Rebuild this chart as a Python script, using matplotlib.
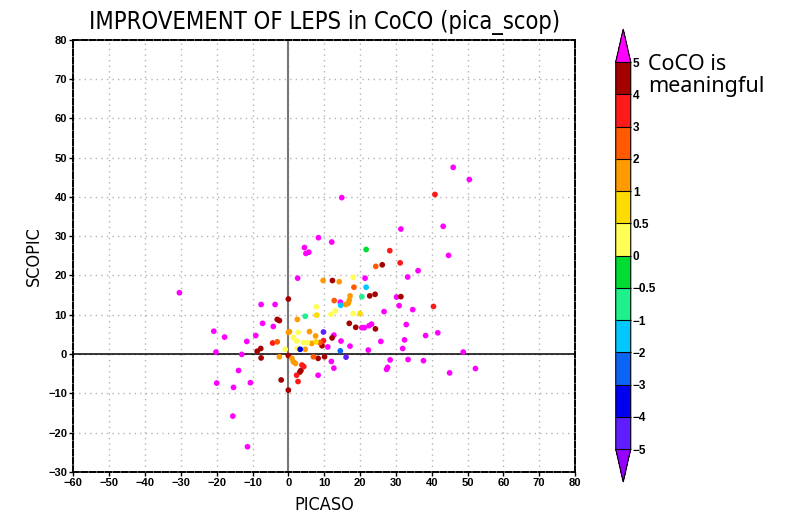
import numpy as np
import matplotlib
matplotlib.use('Agg')
import matplotlib.pyplot as plt
from matplotlib.colors import ListedColormap, BoundaryNorm

# CoCO class boundaries and colours (GrADS style rainbow)
bounds = [-5, -4, -3, -2, -1, -0.5, 0, 0.5, 1, 2, 3, 4, 5]
bound_labels = ['\u22125', '\u22124', '\u22123', '\u22122', '\u22121', '\u22120.5', '0',
                '0.5', '1', '2', '3', '4', '5']
colors = ['#5f1eff', '#0000f0', '#0a64f5', '#00c8ff', '#1ef08c', '#00dc32',
          '#ffff55', '#ffdc00', '#ff9a00', '#ff5a00', '#ff1a1a', '#a50000']
under_color = '#9600ff'
over_color = '#ff00ff'

# points: magenta (> 5)
mag_x = [-30.4, -20.8, -17.8, -20.2, -20.0, -15.3, -13.9, -15.5, -11.4, -13.0, -11.6, -10.6,
         -9.1, -7.6, -7.2, -3.7, -4.2,
         2.6, 21.4, 14.5, 20.5, 21.2, 22.5, 23.2, 25.8, 12.7, 14.7, 11.0, 17.2, 22.3, 12.0,
         12.7, 8.3, 46.0, 50.5, 14.9, 31.4, 43.2, 44.7, 36.2, 33.3, 30.2, 30.9, 34.7, 26.7,
         32.9, 32.4, 41.7, 38.3, 31.9, 33.4, 37.7, 48.8, 28.4, 27.7, 27.4, 45.0, 52.2, 8.4,
         12.1, 4.5, 4.9, 5.7]
mag_y = [15.6, 5.8, 4.3, 0.5, -7.4, -8.5, -4.2, -15.8, -23.6, -0.1, 3.2, -7.3,
         4.7, 12.6, 7.8, 12.6, 7.0,
         19.3, 19.3, 13.2, 6.7, 6.7, 7.2, 7.6, 3.2, 4.8, 3.3, 1.8, 2.0, 1.0, -1.9,
         -3.6, -5.4, 47.5, 44.4, 39.8, 31.8, 32.5, 25.1, 21.2, 19.6, 14.5, 12.3, 11.3, 10.8,
         7.5, 3.6, 5.4, 4.7, 1.4, -1.4, -1.7, 0.5, -1.5, -3.4, -3.9, -4.8, -3.7, 29.6,
         28.5, 27.1, 25.6, 25.9]

# points with a CoCO value inside the colour scale
pt_x = [-8.7, -7.7, -7.6, -3.1, -2.5, -2.0, 0.0, 0.0, 12.3, 22.7, 24.2, 31.4, 17.0, 18.8,
        24.3, 12.2, 9.4, 8.3, 10.1, 0.0, 3.5, 3.2, 26.2,
        -4.4, 28.3, 31.2, 40.9, 40.5, 9.8, 3.8, 4.3, 2.3, 2.7,
        -3.1, 18.3, 12.8, 7.0, 24.4, 8.8,
        -2.5, 0.0, 9.7, 14.2, 17.2, 17.0, 16.7, 16.0, 2.5, 0.3, 5.9, 7.6, 6.5, 4.7, 1.0,
        1.4, 2.0,
        7.9, 20.0, 7.7,
        18.1, 7.8, 13.1, 11.9, 18.1, 2.7, 1.4, 2.3, 4.2, 5.3, 2.5, -0.9,
        21.7, 20.5, 4.7,
        21.7, 14.6,
        14.5,
        3.3,
        16.1, 9.8]
pt_y = [0.7, 1.4, -1.0, 8.8, 8.5, -6.6, 14.0, -9.2, 18.7, 14.8, 15.2, 14.6, 7.8, 6.8,
        6.4, 4.1, 2.1, -1.1, -0.7, -0.4, -4.2, -4.6, 22.7,
        2.8, 26.3, 23.2, 40.6, 12.1, 3.4, -2.8, -3.2, -5.4, -7.0,
        3.1, 17.0, 13.6, -0.7, 22.3, 2.9,
        -0.7, 5.5, 18.7, 18.4, 14.8, 13.7, 12.9, 12.6, 8.8, 5.7, 5.7, 4.6, 2.7, 1.2, -1.1,
        -2.0, -2.4,
        9.9, 10.3, 3.1,
        19.5, 12.0, 11.0, 10.1, 10.3, 5.5, 4.2, 3.3, 2.9, 2.9, 1.4, 1.2,
        26.6, 14.6, 9.6,
        17.0, 12.4,
        0.8,
        1.2,
        -0.8, 5.6]
pt_coco = [4.5] * 23 + [3.5] * 10 + [2.5] * 6 + [1.5] * 17 + [0.75] * 3 + [0.25] * 12 \
    + [-0.25, -0.75, -0.75] + [-1.5] * 2 + [-2.5] + [-3.5] + [-4.5] * 2

x_all = mag_x + pt_x
y_all = mag_y + pt_y
c_all = [6.0] * len(mag_x) + pt_coco

cmap = ListedColormap(colors).with_extremes(under=under_color, over=over_color)
norm = BoundaryNorm(bounds, ncolors=len(colors))

label_kw = dict(family='DejaVu Sans', fontstretch='condensed', fontweight='light')
tick_font = ['Liberation Sans', 'DejaVu Sans']

fig = plt.figure(figsize=(7.91, 5.15), dpi=100)
ax = fig.add_axes([0.0927, 0.0837, 0.6343, 0.8393])

ax.set_xlim(-60, 80)
ax.set_ylim(-30, 80)
ax.set_xticks(np.arange(-60, 81, 10))
ax.set_yticks(np.arange(-30, 81, 10))
ax.set_xticklabels([str(v).replace('-', '\u2212') for v in range(-60, 81, 10)])
ax.set_yticklabels([str(v).replace('-', '\u2212') for v in range(-30, 81, 10)])
for lab in ax.get_xticklabels() + ax.get_yticklabels():
    lab.set_family(tick_font)
    lab.set_fontweight('bold')
    lab.set_fontsize(8)
ax.tick_params(direction='out', length=3, width=1, pad=1.5)

ax.grid(True, linestyle=(0, (1, 3)), color='#b4b4b4', linewidth=1)
ax.set_axisbelow(True)
for sp in ax.spines.values():
    sp.set_linestyle((0, (3, 1.2)))
    sp.set_linewidth(1.4)

ax.axvline(0, color='#777777', linewidth=1.5, zorder=2)
ax.axhline(0, color='black', linewidth=1.1, zorder=2)

sc = ax.scatter(x_all, y_all, c=c_all, cmap=cmap, norm=norm, s=17, linewidths=0, zorder=3)

ax.set_title('IMPROVEMENT OF LEPS in CoCO (pica_scop)', fontsize=17, pad=8, **label_kw)
ax.set_xlabel('PICASO', fontsize=13, labelpad=6, **label_kw)
ax.set_ylabel('SCOPIC', fontsize=13, labelpad=4, **label_kw)

cax = fig.add_axes([0.7784, 0.064, 0.019, 0.8796])
cb = fig.colorbar(sc, cax=cax, extend='both', extendfrac=0.0853, spacing='uniform',
                  drawedges=True, ticks=bounds)
cb.ax.set_yticklabels(bound_labels)
cb.ax.tick_params(length=0, pad=1.5)
for lab in cb.ax.get_yticklabels():
    lab.set_family(tick_font)
    lab.set_fontweight('bold')
    lab.set_fontsize(8.5)
cb.outline.set_linewidth(0.8)
cb.dividers.set_linewidth(0.8)

fig.text(0.819, 0.895, 'CoCO is\nmeaningful', family=['Noto Sans', 'DejaVu Sans'],
         fontsize=15.5, va='top', ha='left', linespacing=1.05)

fig.savefig('out.png', dpi=100)
